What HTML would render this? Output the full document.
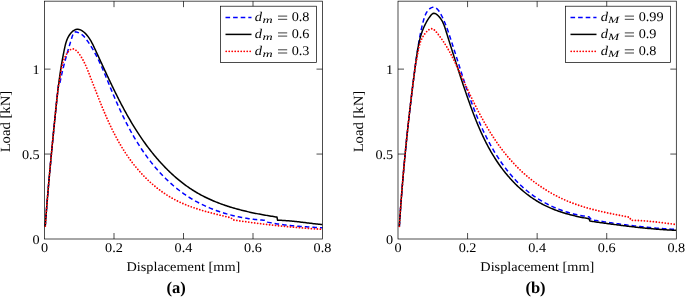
<!DOCTYPE html>
<html><head><meta charset="utf-8"><style>
html,body{margin:0;padding:0;background:#fff;width:685px;height:297px;overflow:hidden}
svg{display:block} text{text-rendering:geometricPrecision}
</style></head><body>
<svg style="will-change:transform" width="685" height="297" viewBox="0 0 685 297">
<rect width="685" height="297" fill="#fff"/>
<path d="M45.25,226.18 L45.34,224.98 L45.42,223.79 L45.51,222.59 L45.60,221.40 L45.69,220.20 L45.78,219.01 L45.87,217.81 L45.96,216.62 L46.05,215.42 L46.14,214.23 L46.23,213.03 L46.33,211.83 L46.42,210.64 L46.51,209.44 L46.61,208.24 L46.70,207.04 L46.80,205.85 L46.90,204.65 L46.99,203.45 L47.09,202.25 L47.19,201.05 L47.29,199.85 L47.39,198.66 L47.49,197.46 L47.59,196.26 L47.69,195.06 L47.79,193.86 L47.89,192.66 L47.99,191.46 L48.10,190.26 L48.20,189.06 L48.30,187.86 L48.41,186.66 L48.51,185.46 L48.62,184.26 L48.72,183.06 L48.83,181.86 L48.94,180.66 L49.04,179.46 L49.15,178.26 L49.26,177.06 L49.37,175.86 L49.47,174.66 L49.58,173.46 L49.69,172.26 L49.80,171.06 L49.91,169.86 L50.02,168.66 L50.13,167.46 L50.25,166.26 L50.36,165.06 L50.47,163.85 L50.58,162.65 L50.69,161.45 L50.81,160.25 L50.92,159.05 L51.03,157.85 L51.15,156.65 L51.26,155.45 L51.38,154.25 L51.49,153.05 L51.60,151.85 L51.72,150.65 L51.84,149.45 L51.95,148.25 L52.07,147.05 L52.18,145.85 L52.30,144.66 L52.42,143.46 L52.53,142.26 L52.65,141.06 L52.77,139.86 L52.88,138.66 L53.00,137.46 L53.12,136.26 L53.24,135.07 L53.36,133.87 L53.47,132.67 L53.59,131.47 L53.71,130.28 L53.83,129.08 L53.95,127.88 L54.07,126.69 L54.19,125.49 L54.31,124.29 L54.43,123.10 L54.55,121.90 L54.67,120.70 L54.79,119.51 L54.90,118.31 L55.02,117.12 L55.14,115.92 L55.26,114.73 L55.39,113.54 L55.51,112.34 L55.63,111.15 L55.75,109.96 L55.87,108.76 L55.99,107.57 L56.12,106.38 L56.24,105.18 L56.37,103.99 L56.49,102.80 L56.62,101.61 L56.75,100.42 L56.88,99.22 L57.01,98.03 L57.14,96.84 L57.28,95.65 L57.41,94.46 L57.55,93.27 L57.69,92.08 L57.83,90.89 L57.97,89.70 L58.11,88.50 L58.26,87.31 L58.41,86.12 L58.56,84.93 L59.75,83.82 L59.98,82.64 L60.21,81.47 L60.45,80.30 L60.69,79.13 L60.94,77.96 L61.19,76.79 L61.44,75.62 L61.70,74.45 L61.96,73.29 L62.23,72.12 L62.50,70.96 L62.77,69.79 L63.05,68.63 L63.34,67.47 L63.63,66.31 L63.92,65.15 L64.22,63.99 L64.52,62.83 L64.83,61.68 L65.14,60.52 L65.45,59.36 L65.77,58.20 L66.09,57.05 L66.42,55.89 L66.75,54.73 L67.08,53.57 L67.41,52.41 L67.75,51.24 L68.10,50.08 L68.44,48.91 L68.79,47.74 L69.14,46.57 L69.49,45.40 L69.85,44.22 L70.21,43.04 L70.57,41.86 L70.93,40.67 L71.30,39.48 L71.66,38.29 L72.03,37.09 L72.40,35.89 L72.80,34.73 L73.24,33.67 L73.76,32.79 L74.40,32.16 L75.19,31.86 L76.14,31.90 L77.20,32.21 L78.35,32.67 L79.52,33.21 L80.68,33.82 L81.77,34.50 L82.75,35.26 L83.63,36.09 L84.43,36.97 L85.18,37.89 L85.89,38.83 L86.59,39.77 L87.29,40.73 L87.96,41.69 L88.63,42.66 L89.29,43.64 L89.94,44.63 L90.58,45.62 L91.20,46.62 L91.82,47.63 L92.43,48.64 L93.03,49.66 L93.62,50.69 L94.20,51.72 L94.78,52.76 L95.34,53.80 L95.90,54.85 L96.45,55.90 L97.00,56.96 L97.53,58.03 L98.06,59.09 L98.59,60.17 L99.11,61.24 L99.62,62.33 L100.13,63.41 L100.63,64.50 L101.13,65.59 L101.62,66.69 L102.11,67.79 L102.60,68.89 L103.08,70.00 L103.55,71.10 L104.03,72.21 L104.50,73.32 L104.97,74.44 L105.44,75.55 L105.90,76.67 L106.37,77.79 L106.83,78.91 L107.29,80.03 L107.75,81.15 L108.21,82.27 L108.67,83.39 L109.13,84.51 L109.58,85.63 L110.04,86.76 L110.51,87.88 L110.97,89.00 L111.43,90.12 L111.89,91.24 L112.36,92.35 L112.83,93.47 L113.30,94.59 L113.77,95.70 L114.25,96.81 L114.72,97.93 L115.20,99.04 L115.68,100.15 L116.16,101.25 L116.65,102.36 L117.14,103.47 L117.63,104.57 L118.12,105.67 L118.62,106.77 L119.11,107.87 L119.62,108.97 L120.12,110.06 L120.63,111.16 L121.14,112.25 L121.65,113.34 L122.17,114.43 L122.69,115.51 L123.21,116.60 L123.74,117.68 L124.27,118.76 L124.80,119.84 L125.34,120.91 L125.88,121.98 L126.42,123.06 L126.97,124.13 L127.52,125.19 L128.08,126.26 L128.64,127.32 L129.20,128.38 L129.77,129.43 L130.35,130.49 L130.92,131.54 L131.51,132.59 L132.09,133.63 L132.68,134.68 L133.28,135.72 L133.88,136.76 L134.49,137.79 L135.10,138.82 L135.71,139.85 L136.33,140.88 L136.96,141.90 L137.59,142.92 L138.22,143.94 L138.86,144.96 L139.51,145.97 L140.16,146.97 L140.82,147.98 L141.48,148.98 L142.15,149.98 L142.83,150.97 L143.51,151.96 L144.19,152.95 L144.88,153.93 L145.58,154.91 L146.29,155.89 L147.00,156.86 L147.71,157.83 L148.43,158.79 L149.16,159.75 L149.89,160.71 L150.63,161.66 L151.38,162.60 L152.13,163.54 L152.89,164.48 L153.65,165.41 L154.42,166.34 L155.19,167.26 L155.98,168.17 L156.76,169.08 L157.56,169.99 L158.36,170.89 L159.16,171.78 L159.97,172.67 L160.79,173.55 L161.61,174.43 L162.44,175.30 L163.28,176.16 L164.12,177.02 L164.97,177.87 L165.83,178.71 L166.69,179.55 L167.55,180.38 L168.43,181.21 L169.30,182.02 L170.19,182.83 L171.08,183.63 L171.98,184.43 L172.88,185.22 L173.79,186.00 L174.71,186.77 L175.63,187.53 L176.56,188.29 L177.50,189.04 L178.44,189.78 L179.38,190.51 L180.34,191.24 L181.30,191.95 L182.27,192.66 L183.24,193.36 L184.22,194.05 L185.20,194.73 L186.20,195.40 L187.19,196.06 L188.20,196.72 L189.21,197.36 L190.23,198.00 L191.25,198.62 L192.28,199.24 L193.32,199.85 L194.36,200.45 L195.40,201.04 L196.46,201.62 L197.52,202.19 L198.58,202.75 L199.65,203.30 L200.72,203.85 L201.80,204.38 L202.89,204.91 L203.97,205.42 L205.07,205.93 L206.17,206.43 L207.27,206.92 L208.38,207.40 L209.49,207.87 L210.60,208.33 L211.72,208.78 L212.84,209.23 L213.97,209.67 L215.10,210.09 L216.24,210.51 L217.37,210.92 L218.51,211.32 L219.66,211.71 L220.80,212.09 L221.95,212.47 L223.11,212.83 L224.26,213.19 L225.42,213.54 L226.58,213.88 L227.74,214.21 L228.91,214.53 L230.08,214.84 L231.25,215.14 L232.42,215.44 L233.59,215.73 L234.77,216.01 L235.94,216.28 L237.12,216.54 L238.30,216.79 L239.48,217.03 L240.66,217.27 L241.84,217.50 L243.03,217.72 L244.21,217.93 L245.40,218.13 L246.58,218.32 L247.77,218.51 L248.95,218.68 L250.14,218.85 L251.33,219.01 L252.51,219.16 L253.70,219.31 L254.88,219.44 L256.07,219.57 L257.26,219.69 L258.44,219.80 L259.62,219.90 L260.81,219.99 L261.99,220.08 L263.17,220.16 L264.35,220.23 L265.53,220.29 L267.51,222.11 L268.72,222.36 L269.93,222.61 L271.14,222.84 L272.35,223.07 L273.56,223.28 L274.78,223.49 L275.99,223.69 L277.20,223.89 L278.42,224.07 L279.64,224.25 L280.85,224.42 L282.07,224.59 L283.29,224.75 L284.51,224.90 L285.73,225.05 L286.95,225.19 L288.17,225.32 L289.39,225.45 L290.61,225.58 L291.84,225.70 L293.06,225.81 L294.28,225.92 L295.51,226.03 L296.73,226.13 L297.96,226.23 L299.18,226.33 L300.41,226.42 L301.64,226.51 L302.86,226.60 L304.09,226.69 L305.32,226.77 L306.54,226.85 L307.77,226.93 L309.00,227.01 L310.22,227.09 L311.45,227.17 L312.68,227.24 L313.91,227.32 L315.14,227.39 L316.36,227.47 L317.59,227.55 L318.82,227.62 L320.05,227.70 L321.28,227.78 L322.50,227.86" fill="none" stroke="#00f" stroke-width="1.5" stroke-dasharray="4.6 3.0" stroke-linejoin="round"/>
<path d="M45.25,226.18 L45.34,224.98 L45.42,223.79 L45.51,222.59 L45.60,221.40 L45.69,220.20 L45.78,219.01 L45.87,217.81 L45.96,216.62 L46.05,215.42 L46.14,214.23 L46.23,213.03 L46.33,211.83 L46.42,210.64 L46.51,209.44 L46.61,208.24 L46.70,207.04 L46.80,205.85 L46.90,204.65 L46.99,203.45 L47.09,202.25 L47.19,201.05 L47.29,199.85 L47.39,198.66 L47.49,197.46 L47.59,196.26 L47.69,195.06 L47.79,193.86 L47.89,192.66 L47.99,191.46 L48.10,190.26 L48.20,189.06 L48.30,187.86 L48.41,186.66 L48.51,185.46 L48.62,184.26 L48.72,183.06 L48.83,181.86 L48.94,180.66 L49.04,179.46 L49.15,178.26 L49.26,177.06 L49.37,175.86 L49.47,174.66 L49.58,173.46 L49.69,172.26 L49.80,171.06 L49.91,169.86 L50.02,168.66 L50.13,167.46 L50.25,166.26 L50.36,165.06 L50.47,163.85 L50.58,162.65 L50.69,161.45 L50.81,160.25 L50.92,159.05 L51.03,157.85 L51.15,156.65 L51.26,155.45 L51.38,154.25 L51.49,153.05 L51.60,151.85 L51.72,150.65 L51.84,149.45 L51.95,148.25 L52.07,147.05 L52.18,145.85 L52.30,144.66 L52.42,143.46 L52.53,142.26 L52.65,141.06 L52.77,139.86 L52.88,138.66 L53.00,137.46 L53.12,136.26 L53.24,135.07 L53.36,133.87 L53.47,132.67 L53.59,131.47 L53.71,130.28 L53.83,129.08 L53.95,127.88 L54.07,126.69 L54.19,125.49 L54.31,124.29 L54.43,123.10 L54.55,121.90 L54.67,120.70 L54.79,119.51 L54.90,118.31 L55.02,117.12 L55.14,115.92 L55.26,114.73 L55.39,113.54 L55.51,112.34 L55.63,111.15 L55.75,109.96 L55.87,108.76 L55.99,107.57 L56.12,106.38 L56.24,105.18 L56.37,103.99 L56.49,102.80 L56.62,101.61 L56.75,100.42 L56.88,99.22 L57.01,98.03 L57.14,96.84 L57.28,95.65 L57.41,94.46 L57.55,93.27 L57.69,92.08 L57.83,90.89 L57.97,89.70 L58.11,88.50 L58.26,87.31 L58.41,86.12 L58.56,84.93 L58.71,83.74 L58.86,82.55 L59.02,81.36 L59.18,80.17 L59.34,78.98 L59.50,77.80 L59.67,76.61 L59.84,75.42 L60.01,74.23 L60.18,73.04 L60.36,71.85 L60.54,70.66 L60.73,69.47 L60.91,68.28 L61.10,67.09 L61.30,65.90 L61.49,64.71 L61.69,63.52 L61.90,62.33 L62.10,61.14 L62.31,59.95 L62.53,58.76 L62.75,57.57 L62.97,56.38 L63.20,55.19 L63.43,54.00 L63.66,52.81 L63.90,51.62 L64.14,50.43 L64.39,49.24 L64.64,48.05 L64.90,46.86 L65.17,45.68 L65.46,44.50 L65.78,43.32 L66.12,42.16 L66.50,41.01 L66.92,39.87 L67.38,38.75 L67.90,37.64 L68.47,36.56 L69.11,35.50 L69.81,34.46 L70.57,33.47 L71.38,32.54 L72.24,31.69 L73.13,30.94 L74.06,30.30 L75.01,29.80 L75.99,29.45 L76.97,29.26 L77.96,29.25 L78.95,29.39 L79.94,29.68 L80.91,30.09 L81.88,30.62 L82.83,31.26 L83.75,31.98 L84.65,32.77 L85.52,33.62 L86.36,34.51 L87.15,35.44 L87.91,36.39 L88.62,37.37 L89.31,38.36 L89.96,39.38 L90.59,40.41 L91.19,41.46 L91.77,42.53 L92.34,43.60 L92.88,44.68 L93.42,45.78 L93.94,46.87 L94.46,47.97 L94.97,49.08 L95.48,50.18 L95.99,51.28 L96.51,52.39 L97.02,53.49 L97.52,54.59 L98.03,55.69 L98.54,56.80 L99.05,57.90 L99.56,59.00 L100.06,60.10 L100.57,61.20 L101.08,62.30 L101.59,63.40 L102.09,64.50 L102.60,65.60 L103.11,66.70 L103.61,67.80 L104.12,68.89 L104.63,69.99 L105.14,71.09 L105.65,72.18 L106.15,73.28 L106.66,74.37 L107.17,75.46 L107.69,76.55 L108.20,77.64 L108.71,78.73 L109.22,79.82 L109.74,80.91 L110.26,82.00 L110.77,83.09 L111.29,84.17 L111.81,85.25 L112.33,86.34 L112.85,87.42 L113.38,88.50 L113.90,89.58 L114.43,90.66 L114.96,91.73 L115.49,92.81 L116.02,93.88 L116.56,94.96 L117.09,96.03 L117.63,97.10 L118.17,98.17 L118.71,99.24 L119.26,100.30 L119.80,101.37 L120.35,102.43 L120.90,103.49 L121.46,104.55 L122.02,105.61 L122.57,106.66 L123.14,107.72 L123.70,108.77 L124.27,109.82 L124.84,110.87 L125.41,111.91 L125.99,112.96 L126.57,114.00 L127.15,115.04 L127.74,116.08 L128.33,117.12 L128.92,118.16 L129.52,119.19 L130.12,120.22 L130.72,121.25 L131.33,122.27 L131.94,123.30 L132.55,124.32 L133.17,125.34 L133.79,126.36 L134.42,127.37 L135.05,128.39 L135.68,129.40 L136.32,130.40 L136.97,131.41 L137.61,132.41 L138.27,133.41 L138.92,134.41 L139.58,135.41 L140.25,136.40 L140.92,137.39 L141.59,138.38 L142.27,139.36 L142.96,140.35 L143.65,141.32 L144.34,142.30 L145.04,143.28 L145.74,144.25 L146.45,145.21 L147.17,146.18 L147.89,147.14 L148.61,148.10 L149.35,149.06 L150.08,150.01 L150.82,150.96 L151.57,151.91 L152.33,152.85 L153.08,153.79 L153.85,154.72 L154.62,155.66 L155.39,156.58 L156.17,157.51 L156.96,158.43 L157.75,159.34 L158.55,160.25 L159.35,161.16 L160.16,162.06 L160.97,162.95 L161.79,163.84 L162.62,164.73 L163.45,165.61 L164.28,166.49 L165.12,167.36 L165.97,168.22 L166.82,169.08 L167.68,169.93 L168.54,170.78 L169.41,171.62 L170.29,172.45 L171.17,173.28 L172.05,174.10 L172.94,174.91 L173.84,175.72 L174.74,176.52 L175.65,177.32 L176.56,178.10 L177.48,178.88 L178.40,179.65 L179.33,180.42 L180.27,181.17 L181.21,181.92 L182.15,182.66 L183.11,183.40 L184.06,184.12 L185.02,184.84 L185.99,185.54 L186.97,186.24 L187.95,186.93 L188.93,187.61 L189.92,188.29 L190.92,188.95 L191.92,189.61 L192.92,190.25 L193.93,190.89 L194.95,191.51 L195.98,192.13 L197.00,192.73 L198.04,193.33 L199.08,193.92 L200.12,194.50 L201.17,195.07 L202.23,195.63 L203.28,196.18 L204.35,196.72 L205.42,197.25 L206.49,197.78 L207.57,198.29 L208.65,198.80 L209.74,199.30 L210.83,199.79 L211.92,200.27 L213.02,200.74 L214.13,201.21 L215.23,201.66 L216.34,202.11 L217.46,202.55 L218.58,202.99 L219.70,203.41 L220.82,203.83 L221.95,204.24 L223.08,204.65 L224.22,205.04 L225.36,205.43 L226.50,205.82 L227.64,206.19 L228.79,206.56 L229.93,206.92 L231.09,207.28 L232.24,207.63 L233.40,207.97 L234.55,208.31 L235.71,208.64 L236.88,208.96 L238.04,209.28 L239.21,209.59 L240.38,209.90 L241.55,210.20 L242.72,210.49 L243.89,210.78 L245.07,211.07 L246.24,211.35 L247.42,211.62 L248.60,211.89 L249.78,212.15 L250.96,212.41 L252.14,212.67 L253.32,212.92 L254.51,213.16 L255.69,213.40 L256.87,213.64 L258.06,213.87 L259.24,214.09 L260.43,214.32 L261.61,214.54 L262.80,214.75 L263.98,214.96 L265.17,215.17 L266.35,215.37 L267.54,215.57 L268.72,215.77 L269.90,215.97 L271.09,216.16 L272.27,216.34 L273.45,216.53 L274.63,216.71 L275.81,216.89 L276.99,217.06 L277.60,220.27 L278.85,220.29 L280.10,220.33 L281.35,220.37 L282.59,220.43 L283.84,220.49 L285.08,220.57 L286.33,220.65 L287.57,220.74 L288.81,220.84 L290.05,220.95 L291.30,221.06 L292.54,221.18 L293.78,221.31 L295.02,221.44 L296.26,221.58 L297.50,221.72 L298.74,221.86 L299.98,222.01 L301.22,222.15 L302.45,222.30 L303.69,222.46 L304.93,222.61 L306.17,222.76 L307.41,222.91 L308.65,223.06 L309.89,223.21 L311.13,223.36 L312.37,223.50 L313.61,223.64 L314.85,223.78 L316.09,223.91 L317.33,224.04 L318.57,224.16 L319.81,224.28 L321.06,224.38 L322.30,224.49" fill="none" stroke="#000" stroke-width="1.5"  stroke-linejoin="round"/>
<path d="M45.25,226.18 L45.34,224.98 L45.42,223.79 L45.51,222.59 L45.60,221.40 L45.69,220.20 L45.78,219.01 L45.87,217.81 L45.96,216.62 L46.05,215.42 L46.14,214.23 L46.23,213.03 L46.33,211.83 L46.42,210.64 L46.51,209.44 L46.61,208.24 L46.70,207.04 L46.80,205.85 L46.90,204.65 L46.99,203.45 L47.09,202.25 L47.19,201.05 L47.29,199.85 L47.39,198.66 L47.49,197.46 L47.59,196.26 L47.69,195.06 L47.79,193.86 L47.89,192.66 L47.99,191.46 L48.10,190.26 L48.20,189.06 L48.30,187.86 L48.41,186.66 L48.51,185.46 L48.62,184.26 L48.72,183.06 L48.83,181.86 L48.94,180.66 L49.04,179.46 L49.15,178.26 L49.26,177.06 L49.37,175.86 L49.47,174.66 L49.58,173.46 L49.69,172.26 L49.80,171.06 L49.91,169.86 L50.02,168.66 L50.13,167.46 L50.25,166.26 L50.36,165.06 L50.47,163.85 L50.58,162.65 L50.69,161.45 L50.81,160.25 L50.92,159.05 L51.03,157.85 L51.15,156.65 L51.26,155.45 L51.38,154.25 L51.49,153.05 L51.60,151.85 L51.72,150.65 L51.84,149.45 L51.95,148.25 L52.07,147.05 L52.18,145.85 L52.30,144.66 L52.42,143.46 L52.53,142.26 L52.65,141.06 L52.77,139.86 L52.88,138.66 L53.00,137.46 L53.12,136.26 L53.24,135.07 L53.36,133.87 L53.47,132.67 L53.59,131.47 L53.71,130.28 L53.83,129.08 L53.95,127.88 L54.07,126.69 L54.19,125.49 L54.31,124.29 L54.43,123.10 L54.55,121.90 L54.67,120.70 L54.79,119.51 L54.90,118.31 L55.02,117.12 L55.14,115.92 L55.26,114.73 L55.39,113.54 L55.51,112.34 L55.63,111.15 L55.75,109.96 L55.87,108.76 L55.99,107.57 L56.12,106.38 L56.24,105.18 L56.37,103.99 L56.49,102.80 L56.62,101.61 L56.75,100.42 L56.88,99.22 L57.01,98.03 L57.14,96.84 L57.28,95.65 L57.41,94.46 L57.55,93.27 L57.69,92.08 L57.83,90.89 L57.97,89.70 L58.11,88.50 L58.26,87.31 L58.41,86.12 L58.56,84.93 L59.17,83.59 L59.33,82.39 L59.50,81.18 L59.67,79.98 L59.84,78.77 L60.01,77.56 L60.18,76.36 L60.36,75.15 L60.54,73.94 L60.72,72.73 L60.91,71.53 L61.12,70.33 L61.33,69.13 L61.56,67.93 L61.81,66.74 L62.08,65.56 L62.38,64.38 L62.70,63.21 L63.05,62.05 L63.43,60.90 L63.84,59.75 L64.28,58.62 L64.77,57.50 L65.30,56.39 L65.87,55.29 L66.48,54.22 L67.13,53.19 L67.82,52.23 L68.54,51.35 L69.28,50.57 L70.05,49.91 L70.85,49.40 L71.65,49.06 L72.48,48.90 L73.31,48.94 L74.15,49.18 L74.99,49.61 L75.82,50.19 L76.65,50.92 L77.47,51.76 L78.28,52.69 L79.06,53.70 L79.82,54.76 L80.55,55.85 L81.25,56.95 L81.91,58.05 L82.55,59.15 L83.16,60.25 L83.74,61.35 L84.29,62.46 L84.83,63.56 L85.35,64.67 L85.84,65.78 L86.33,66.89 L86.80,68.00 L87.26,69.11 L87.71,70.22 L88.15,71.33 L88.59,72.44 L89.03,73.56 L89.46,74.67 L89.90,75.79 L90.33,76.91 L90.77,78.03 L91.20,79.14 L91.64,80.26 L92.07,81.38 L92.50,82.51 L92.93,83.63 L93.37,84.75 L93.80,85.87 L94.23,86.99 L94.67,88.11 L95.10,89.24 L95.54,90.36 L95.97,91.48 L96.41,92.60 L96.85,93.73 L97.29,94.85 L97.73,95.97 L98.17,97.09 L98.61,98.21 L99.05,99.33 L99.50,100.45 L99.95,101.57 L100.40,102.69 L100.85,103.81 L101.30,104.93 L101.76,106.04 L102.21,107.16 L102.67,108.27 L103.14,109.38 L103.60,110.49 L104.07,111.60 L104.54,112.71 L105.01,113.82 L105.49,114.93 L105.97,116.03 L106.45,117.13 L106.94,118.23 L107.43,119.33 L107.92,120.43 L108.42,121.52 L108.92,122.62 L109.42,123.71 L109.93,124.80 L110.45,125.88 L110.96,126.97 L111.49,128.05 L112.01,129.13 L112.54,130.21 L113.08,131.28 L113.62,132.36 L114.16,133.42 L114.71,134.49 L115.27,135.56 L115.83,136.62 L116.39,137.67 L116.96,138.73 L117.54,139.78 L118.12,140.83 L118.71,141.87 L119.31,142.92 L119.91,143.96 L120.51,144.99 L121.12,146.02 L121.74,147.05 L122.37,148.07 L123.00,149.09 L123.64,150.11 L124.28,151.12 L124.94,152.13 L125.59,153.14 L126.26,154.14 L126.93,155.14 L127.61,156.13 L128.30,157.12 L129.00,158.10 L129.70,159.08 L130.41,160.05 L131.13,161.02 L131.86,161.99 L132.59,162.95 L133.33,163.90 L134.08,164.85 L134.83,165.79 L135.59,166.73 L136.36,167.66 L137.14,168.59 L137.93,169.51 L138.72,170.42 L139.52,171.33 L140.32,172.23 L141.13,173.13 L141.96,174.02 L142.78,174.90 L143.62,175.77 L144.46,176.64 L145.31,177.50 L146.16,178.35 L147.03,179.19 L147.90,180.03 L148.77,180.86 L149.66,181.68 L150.55,182.49 L151.44,183.29 L152.35,184.09 L153.26,184.88 L154.18,185.66 L155.10,186.42 L156.03,187.19 L156.97,187.94 L157.92,188.68 L158.87,189.41 L159.83,190.13 L160.80,190.85 L161.77,191.55 L162.75,192.25 L163.73,192.93 L164.72,193.60 L165.72,194.27 L166.73,194.92 L167.74,195.56 L168.76,196.19 L169.78,196.81 L170.81,197.42 L171.85,198.02 L172.90,198.60 L173.95,199.18 L175.00,199.74 L176.07,200.29 L177.14,200.83 L178.21,201.36 L179.29,201.88 L180.38,202.39 L181.47,202.88 L182.57,203.37 L183.67,203.85 L184.78,204.31 L185.89,204.77 L187.01,205.22 L188.13,205.66 L189.25,206.09 L190.38,206.51 L191.51,206.92 L192.65,207.33 L193.79,207.73 L194.93,208.11 L196.08,208.50 L197.23,208.87 L198.38,209.24 L199.53,209.60 L200.69,209.96 L201.85,210.31 L203.01,210.65 L204.17,210.99 L205.33,211.32 L206.50,211.65 L207.66,211.97 L208.83,212.29 L210.00,212.61 L211.17,212.92 L212.34,213.22 L213.50,213.53 L214.67,213.82 L215.84,214.12 L217.01,214.41 L218.18,214.70 L219.35,214.99 L220.52,215.28 L221.68,215.56 L222.85,215.84 L224.01,216.12 L225.17,216.40 L226.34,216.68 L227.49,216.96 L228.65,217.23 L229.80,217.51 L230.96,217.79 L233.20,219.91 L234.41,220.09 L235.63,220.27 L236.84,220.45 L238.06,220.62 L239.27,220.80 L240.49,220.97 L241.70,221.15 L242.92,221.32 L244.14,221.49 L245.35,221.66 L246.57,221.83 L247.79,221.99 L249.00,222.16 L250.22,222.32 L251.44,222.49 L252.65,222.65 L253.87,222.81 L255.09,222.97 L256.31,223.12 L257.52,223.28 L258.74,223.43 L259.96,223.59 L261.18,223.74 L262.40,223.89 L263.62,224.04 L264.83,224.18 L266.05,224.33 L267.27,224.47 L268.49,224.62 L269.71,224.76 L270.93,224.90 L272.15,225.03 L273.37,225.17 L274.59,225.31 L275.81,225.44 L277.03,225.57 L278.25,225.70 L279.47,225.83 L280.69,225.96 L281.91,226.09 L283.14,226.21 L284.36,226.33 L285.58,226.45 L286.80,226.57 L288.02,226.69 L289.24,226.81 L290.47,226.92 L291.69,227.04 L292.91,227.15 L294.14,227.26 L295.36,227.37 L296.58,227.47 L297.80,227.58 L299.03,227.68 L300.25,227.78 L301.48,227.88 L302.70,227.98 L303.92,228.08 L305.15,228.17 L306.37,228.26 L307.60,228.36 L308.82,228.45 L310.05,228.53 L311.27,228.62 L312.50,228.70 L313.72,228.79 L314.95,228.87 L316.18,228.95 L317.40,229.02 L318.63,229.10 L319.85,229.17 L321.08,229.24 L322.31,229.31" fill="none" stroke="#f00" stroke-width="1.8" stroke-dasharray="0 3.0" stroke-linecap="round" stroke-linejoin="round"/>
<path d="M399.34,226.33 L399.42,225.11 L399.50,223.90 L399.58,222.68 L399.66,221.47 L399.74,220.25 L399.82,219.04 L399.90,217.83 L399.99,216.62 L400.07,215.41 L400.15,214.20 L400.24,212.98 L400.32,211.78 L400.41,210.57 L400.50,209.36 L400.58,208.15 L400.67,206.94 L400.76,205.73 L400.85,204.53 L400.94,203.32 L401.03,202.12 L401.12,200.91 L401.21,199.71 L401.30,198.50 L401.40,197.30 L401.49,196.09 L401.58,194.89 L401.68,193.69 L401.77,192.49 L401.87,191.28 L401.97,190.08 L402.06,188.88 L402.16,187.68 L402.26,186.48 L402.36,185.28 L402.46,184.08 L402.56,182.88 L402.66,181.68 L402.76,180.48 L402.86,179.28 L402.96,178.09 L403.06,176.89 L403.17,175.69 L403.27,174.49 L403.38,173.30 L403.48,172.10 L403.59,170.90 L403.70,169.71 L403.80,168.51 L403.91,167.31 L404.02,166.12 L404.13,164.92 L404.24,163.73 L404.35,162.53 L404.46,161.34 L404.57,160.14 L404.68,158.95 L404.80,157.75 L404.91,156.56 L405.02,155.36 L405.14,154.17 L405.25,152.98 L405.37,151.78 L405.49,150.59 L405.60,149.40 L405.72,148.20 L405.84,147.01 L405.96,145.82 L406.08,144.62 L406.20,143.43 L406.32,142.24 L406.44,141.04 L406.56,139.85 L406.69,138.66 L406.81,137.46 L406.93,136.27 L407.06,135.08 L407.18,133.89 L407.31,132.69 L407.43,131.50 L407.56,130.31 L407.69,129.11 L407.82,127.92 L407.95,126.73 L408.08,125.53 L408.21,124.34 L408.34,123.15 L408.47,121.95 L408.60,120.76 L408.73,119.57 L408.87,118.37 L409.00,117.18 L409.14,115.99 L409.27,114.79 L409.41,113.60 L409.54,112.40 L409.68,111.21 L409.82,110.01 L409.96,108.82 L410.09,107.62 L410.23,106.43 L410.37,105.23 L410.52,104.04 L410.66,102.84 L410.80,101.65 L410.94,100.45 L411.09,99.25 L411.23,98.06 L411.37,96.86 L411.52,95.66 L411.67,94.47 L411.81,93.27 L411.96,92.07 L412.11,90.87 L412.26,89.67 L412.40,88.47 L412.55,87.27 L412.70,86.07 L412.86,84.87 L413.01,83.67 L413.16,82.47 L413.31,81.27 L413.47,80.07 L413.62,78.87 L413.78,77.67 L413.93,76.47 L414.09,75.26 L414.24,74.06 L414.40,72.86 L414.56,71.65 L414.72,70.45 L414.88,69.24 L415.04,68.04 L415.20,66.83 L415.36,65.62 L415.52,64.42 L415.68,63.21 L415.85,62.00 L416.01,60.80 L416.19,59.54 L416.37,58.36 L416.54,57.18 L416.71,56.00 L416.89,54.82 L417.07,53.64 L417.24,52.46 L417.42,51.28 L417.60,50.11 L417.78,48.93 L417.96,47.76 L418.14,46.58 L418.33,45.41 L418.52,44.23 L418.71,43.06 L418.90,41.88 L419.10,40.71 L419.30,39.53 L419.51,38.35 L419.73,37.17 L419.95,35.99 L420.17,34.80 L420.40,33.61 L420.64,32.42 L420.89,31.22 L421.15,30.03 L421.41,28.82 L421.69,27.62 L421.97,26.40 L422.27,25.19 L422.57,23.97 L422.89,22.74 L423.21,21.51 L423.55,20.27 L423.91,19.04 L424.29,17.81 L424.70,16.60 L425.15,15.42 L425.64,14.27 L426.18,13.17 L426.78,12.12 L427.43,11.12 L428.16,10.20 L428.94,9.37 L429.78,8.64 L430.66,8.05 L431.56,7.61 L432.49,7.35 L433.42,7.28 L434.35,7.40 L435.26,7.71 L436.14,8.18 L436.99,8.82 L437.78,9.61 L438.53,10.52 L439.24,11.53 L439.92,12.61 L440.56,13.73 L441.18,14.87 L441.77,16.01 L442.34,17.15 L442.88,18.29 L443.41,19.42 L443.92,20.55 L444.41,21.69 L444.89,22.82 L445.35,23.95 L445.80,25.08 L446.23,26.21 L446.66,27.34 L447.07,28.47 L447.48,29.60 L447.88,30.73 L448.27,31.86 L448.66,32.99 L449.04,34.13 L449.42,35.26 L449.80,36.39 L450.18,37.53 L450.55,38.67 L450.93,39.80 L451.30,40.94 L451.67,42.08 L452.04,43.22 L452.41,44.36 L452.78,45.51 L453.15,46.65 L453.52,47.79 L453.88,48.94 L454.25,50.08 L454.61,51.23 L454.98,52.37 L455.34,53.52 L455.71,54.67 L456.07,55.81 L456.43,56.96 L456.79,58.11 L457.16,59.26 L457.52,60.41 L457.88,61.56 L458.25,62.70 L458.61,63.85 L458.97,65.00 L459.33,66.15 L459.70,67.30 L460.06,68.45 L460.43,69.60 L460.79,70.75 L461.16,71.90 L461.53,73.05 L461.90,74.20 L462.27,75.35 L462.64,76.50 L463.01,77.65 L463.38,78.79 L463.75,79.94 L464.13,81.09 L464.51,82.24 L464.88,83.38 L465.26,84.53 L465.64,85.67 L466.03,86.82 L466.41,87.96 L466.80,89.10 L467.19,90.25 L467.58,91.39 L467.97,92.53 L468.37,93.67 L468.76,94.81 L469.16,95.95 L469.57,97.08 L469.97,98.22 L470.38,99.35 L470.79,100.49 L471.20,101.62 L471.61,102.75 L472.03,103.88 L472.45,105.01 L472.88,106.14 L473.30,107.27 L473.74,108.39 L474.17,109.51 L474.61,110.64 L475.05,111.76 L475.49,112.88 L475.94,113.99 L476.39,115.11 L476.84,116.22 L477.30,117.34 L477.76,118.45 L478.23,119.56 L478.70,120.66 L479.18,121.77 L479.65,122.87 L480.14,123.98 L480.62,125.07 L481.12,126.17 L481.61,127.27 L482.11,128.36 L482.62,129.45 L483.13,130.54 L483.64,131.63 L484.16,132.71 L484.69,133.80 L485.22,134.88 L485.75,135.95 L486.29,137.03 L486.84,138.10 L487.39,139.17 L487.94,140.24 L488.50,141.31 L489.07,142.37 L489.64,143.43 L490.22,144.49 L490.80,145.54 L491.39,146.59 L491.99,147.64 L492.59,148.69 L493.20,149.73 L493.81,150.77 L494.43,151.81 L495.06,152.84 L495.69,153.88 L496.33,154.90 L496.98,155.92 L497.63,156.94 L498.28,157.96 L498.95,158.97 L499.62,159.97 L500.30,160.97 L500.98,161.97 L501.67,162.96 L502.37,163.95 L503.07,164.93 L503.78,165.91 L504.50,166.88 L505.22,167.84 L505.95,168.80 L506.69,169.76 L507.44,170.70 L508.19,171.65 L508.95,172.58 L509.71,173.51 L510.48,174.43 L511.27,175.35 L512.05,176.26 L512.85,177.16 L513.65,178.05 L514.46,178.94 L515.27,179.82 L516.10,180.69 L516.93,181.55 L517.77,182.41 L518.62,183.26 L519.47,184.10 L520.33,184.93 L521.20,185.75 L522.08,186.56 L522.96,187.37 L523.86,188.16 L524.76,188.95 L525.66,189.73 L526.58,190.50 L527.51,191.26 L528.44,192.00 L529.38,192.74 L530.33,193.47 L531.28,194.19 L532.25,194.90 L533.22,195.60 L534.20,196.29 L535.19,196.96 L536.19,197.63 L537.20,198.29 L538.21,198.93 L539.23,199.57 L540.26,200.19 L541.29,200.80 L542.33,201.41 L543.38,202.00 L544.43,202.58 L545.50,203.15 L546.56,203.71 L547.64,204.26 L548.72,204.80 L549.80,205.33 L550.89,205.84 L551.99,206.35 L553.09,206.85 L554.20,207.33 L555.31,207.81 L556.42,208.27 L557.55,208.72 L558.67,209.16 L559.80,209.59 L560.93,210.01 L562.07,210.42 L563.21,210.82 L564.36,211.21 L565.50,211.58 L566.66,211.95 L567.81,212.30 L568.97,212.65 L570.13,212.98 L571.29,213.30 L572.46,213.61 L573.62,213.91 L574.79,214.20 L575.96,214.48 L577.14,214.74 L578.31,215.00 L579.49,215.24 L580.66,215.48 L581.84,215.70 L583.02,215.91 L584.20,216.11 L585.38,216.30 L586.56,216.48 L587.74,216.65 L588.92,216.80 L591.51,219.80 L592.73,220.00 L593.95,220.19 L595.17,220.38 L596.39,220.58 L597.60,220.77 L598.82,220.96 L600.04,221.15 L601.26,221.33 L602.48,221.52 L603.70,221.71 L604.92,221.89 L606.14,222.07 L607.36,222.26 L608.58,222.44 L609.80,222.62 L611.02,222.79 L612.24,222.97 L613.46,223.15 L614.68,223.32 L615.90,223.49 L617.12,223.66 L618.34,223.83 L619.56,224.00 L620.79,224.16 L622.01,224.33 L623.23,224.49 L624.45,224.65 L625.67,224.81 L626.90,224.97 L628.12,225.12 L629.34,225.28 L630.57,225.43 L631.79,225.58 L633.01,225.72 L634.24,225.87 L635.46,226.01 L636.69,226.16 L637.91,226.30 L639.14,226.43 L640.36,226.57 L641.59,226.70 L642.81,226.83 L644.04,226.96 L645.27,227.09 L646.49,227.21 L647.72,227.34 L648.95,227.46 L650.17,227.57 L651.40,227.69 L652.63,227.80 L653.86,227.91 L655.08,228.02 L656.31,228.13 L657.54,228.23 L658.77,228.33 L660.00,228.43 L661.23,228.52 L662.46,228.61 L663.69,228.70 L664.92,228.79 L666.15,228.87 L667.38,228.95 L668.61,229.03 L669.84,229.11 L671.08,229.18 L672.31,229.25 L673.54,229.32 L674.77,229.38 L676.01,229.44" fill="none" stroke="#00f" stroke-width="1.5" stroke-dasharray="4.6 3.0" stroke-linejoin="round"/>
<path d="M399.34,226.33 L399.42,225.11 L399.50,223.90 L399.58,222.68 L399.66,221.47 L399.74,220.25 L399.82,219.04 L399.90,217.83 L399.99,216.62 L400.07,215.41 L400.15,214.20 L400.24,212.98 L400.32,211.78 L400.41,210.57 L400.50,209.36 L400.58,208.15 L400.67,206.94 L400.76,205.73 L400.85,204.53 L400.94,203.32 L401.03,202.12 L401.12,200.91 L401.21,199.71 L401.30,198.50 L401.40,197.30 L401.49,196.09 L401.58,194.89 L401.68,193.69 L401.77,192.49 L401.87,191.28 L401.97,190.08 L402.06,188.88 L402.16,187.68 L402.26,186.48 L402.36,185.28 L402.46,184.08 L402.56,182.88 L402.66,181.68 L402.76,180.48 L402.86,179.28 L402.96,178.09 L403.06,176.89 L403.17,175.69 L403.27,174.49 L403.38,173.30 L403.48,172.10 L403.59,170.90 L403.70,169.71 L403.80,168.51 L403.91,167.31 L404.02,166.12 L404.13,164.92 L404.24,163.73 L404.35,162.53 L404.46,161.34 L404.57,160.14 L404.68,158.95 L404.80,157.75 L404.91,156.56 L405.02,155.36 L405.14,154.17 L405.25,152.98 L405.37,151.78 L405.49,150.59 L405.60,149.40 L405.72,148.20 L405.84,147.01 L405.96,145.82 L406.08,144.62 L406.20,143.43 L406.32,142.24 L406.44,141.04 L406.56,139.85 L406.69,138.66 L406.81,137.46 L406.93,136.27 L407.06,135.08 L407.18,133.89 L407.31,132.69 L407.43,131.50 L407.56,130.31 L407.69,129.11 L407.82,127.92 L407.95,126.73 L408.08,125.53 L408.21,124.34 L408.34,123.15 L408.47,121.95 L408.60,120.76 L408.73,119.57 L408.87,118.37 L409.00,117.18 L409.14,115.99 L409.27,114.79 L409.41,113.60 L409.54,112.40 L409.68,111.21 L409.82,110.01 L409.96,108.82 L410.09,107.62 L410.23,106.43 L410.37,105.23 L410.52,104.04 L410.66,102.84 L410.80,101.65 L410.94,100.45 L411.09,99.25 L411.23,98.06 L411.37,96.86 L411.52,95.66 L411.67,94.47 L411.81,93.27 L411.96,92.07 L412.11,90.87 L412.26,89.67 L412.40,88.47 L412.55,87.27 L412.70,86.07 L412.86,84.87 L413.01,83.67 L413.16,82.47 L413.31,81.27 L413.47,80.07 L413.62,78.87 L413.78,77.67 L413.93,76.47 L414.09,75.26 L414.24,74.06 L414.40,72.86 L414.56,71.65 L414.72,70.45 L414.88,69.24 L415.04,68.04 L415.20,66.83 L415.36,65.62 L415.52,64.42 L415.68,63.21 L415.85,62.00 L416.01,60.80 L416.18,59.59 L416.34,58.38 L416.51,57.17 L416.69,55.96 L416.87,54.76 L417.05,53.56 L417.24,52.35 L417.43,51.15 L417.63,49.96 L417.84,48.76 L418.05,47.57 L418.28,46.38 L418.51,45.19 L418.75,44.01 L419.00,42.84 L419.27,41.66 L419.54,40.50 L419.83,39.34 L420.13,38.18 L420.45,37.03 L420.77,35.88 L421.12,34.75 L421.48,33.61 L421.85,32.49 L422.24,31.37 L422.65,30.27 L423.08,29.16 L423.53,28.07 L423.99,26.99 L424.48,25.91 L424.99,24.85 L425.51,23.79 L426.06,22.75 L426.64,21.71 L427.23,20.68 L427.85,19.67 L428.49,18.67 L429.16,17.68 L429.86,16.70 L430.58,15.73 L431.33,14.81 L432.13,14.03 L432.98,13.49 L433.89,13.26 L434.87,13.41 L435.89,13.87 L436.92,14.57 L437.93,15.45 L438.89,16.43 L439.76,17.46 L440.56,18.50 L441.28,19.56 L441.93,20.64 L442.52,21.73 L443.06,22.84 L443.55,23.95 L444.00,25.08 L444.42,26.21 L444.81,27.35 L445.18,28.50 L445.55,29.64 L445.91,30.79 L446.27,31.94 L446.63,33.09 L446.99,34.23 L447.35,35.38 L447.71,36.53 L448.07,37.68 L448.43,38.83 L448.79,39.97 L449.15,41.12 L449.51,42.27 L449.87,43.42 L450.23,44.56 L450.59,45.71 L450.95,46.86 L451.31,48.00 L451.67,49.15 L452.03,50.30 L452.39,51.45 L452.76,52.59 L453.12,53.74 L453.48,54.89 L453.84,56.03 L454.21,57.18 L454.57,58.33 L454.93,59.47 L455.30,60.62 L455.67,61.76 L456.03,62.91 L456.40,64.06 L456.76,65.20 L457.13,66.35 L457.50,67.49 L457.87,68.64 L458.24,69.78 L458.61,70.93 L458.98,72.07 L459.36,73.21 L459.73,74.36 L460.10,75.50 L460.48,76.65 L460.86,77.79 L461.23,78.93 L461.61,80.07 L461.99,81.22 L462.37,82.36 L462.75,83.50 L463.13,84.64 L463.52,85.78 L463.90,86.93 L464.29,88.07 L464.68,89.21 L465.07,90.35 L465.46,91.49 L465.85,92.63 L466.24,93.77 L466.63,94.90 L467.03,96.04 L467.43,97.18 L467.82,98.32 L468.22,99.46 L468.62,100.59 L469.03,101.73 L469.43,102.87 L469.84,104.00 L470.25,105.14 L470.66,106.27 L471.07,107.40 L471.49,108.53 L471.91,109.67 L472.33,110.80 L472.75,111.93 L473.18,113.05 L473.60,114.18 L474.04,115.31 L474.47,116.43 L474.91,117.55 L475.35,118.67 L475.80,119.79 L476.24,120.91 L476.70,122.03 L477.15,123.14 L477.61,124.26 L478.08,125.37 L478.55,126.48 L479.02,127.58 L479.50,128.69 L479.98,129.79 L480.46,130.89 L480.95,131.99 L481.45,133.08 L481.95,134.18 L482.45,135.27 L482.96,136.36 L483.48,137.44 L484.00,138.52 L484.53,139.60 L485.06,140.68 L485.60,141.75 L486.14,142.82 L486.69,143.89 L487.25,144.96 L487.81,146.02 L488.38,147.08 L488.95,148.13 L489.53,149.18 L490.12,150.23 L490.72,151.28 L491.32,152.32 L491.93,153.35 L492.54,154.39 L493.16,155.42 L493.79,156.44 L494.43,157.46 L495.08,158.48 L495.73,159.49 L496.39,160.50 L497.05,161.51 L497.73,162.51 L498.41,163.50 L499.10,164.49 L499.80,165.48 L500.51,166.46 L501.22,167.44 L501.94,168.40 L502.67,169.37 L503.40,170.33 L504.14,171.28 L504.90,172.23 L505.65,173.17 L506.42,174.10 L507.19,175.03 L507.97,175.95 L508.76,176.86 L509.56,177.77 L510.36,178.67 L511.17,179.56 L511.99,180.45 L512.81,181.32 L513.64,182.19 L514.48,183.05 L515.33,183.91 L516.19,184.76 L517.05,185.59 L517.92,186.42 L518.80,187.24 L519.68,188.06 L520.57,188.86 L521.47,189.65 L522.38,190.44 L523.29,191.21 L524.21,191.98 L525.14,192.74 L526.08,193.48 L527.02,194.22 L527.97,194.95 L528.93,195.66 L529.90,196.37 L530.87,197.07 L531.85,197.75 L532.84,198.43 L533.83,199.09 L534.83,199.74 L535.84,200.38 L536.86,201.01 L537.88,201.63 L538.92,202.24 L539.95,202.83 L541.00,203.42 L542.05,203.99 L543.11,204.55 L544.18,205.09 L545.25,205.63 L546.33,206.15 L547.42,206.66 L548.51,207.16 L549.61,207.65 L550.72,208.13 L551.83,208.60 L552.94,209.05 L554.06,209.50 L555.19,209.93 L556.32,210.36 L557.45,210.77 L558.59,211.18 L559.73,211.57 L560.88,211.96 L562.03,212.33 L563.18,212.70 L564.33,213.06 L565.49,213.41 L566.65,213.74 L567.82,214.08 L568.98,214.40 L570.15,214.71 L571.32,215.02 L572.49,215.31 L573.66,215.60 L574.84,215.89 L576.01,216.16 L577.19,216.43 L578.36,216.69 L579.54,216.94 L580.71,217.18 L581.89,217.42 L583.06,217.65 L584.24,217.88 L585.41,218.10 L586.58,218.31 L587.75,218.52 L588.92,218.72 L590.02,221.11 L591.23,221.28 L592.44,221.45 L593.64,221.62 L594.85,221.80 L596.05,221.97 L597.26,222.14 L598.47,222.31 L599.67,222.48 L600.88,222.65 L602.08,222.82 L603.29,222.98 L604.50,223.15 L605.70,223.32 L606.91,223.49 L608.12,223.65 L609.32,223.82 L610.53,223.98 L611.74,224.14 L612.95,224.31 L614.15,224.47 L615.36,224.63 L616.57,224.79 L617.78,224.94 L618.99,225.10 L620.19,225.26 L621.40,225.41 L622.61,225.56 L623.82,225.71 L625.03,225.86 L626.24,226.01 L627.45,226.16 L628.66,226.31 L629.87,226.45 L631.08,226.59 L632.29,226.73 L633.50,226.87 L634.71,227.01 L635.92,227.15 L637.13,227.28 L638.34,227.41 L639.55,227.54 L640.76,227.67 L641.97,227.79 L643.19,227.92 L644.40,228.04 L645.61,228.16 L646.82,228.28 L648.04,228.39 L649.25,228.50 L650.46,228.61 L651.68,228.72 L652.89,228.83 L654.11,228.93 L655.32,229.03 L656.53,229.13 L657.75,229.22 L658.96,229.32 L660.18,229.40 L661.40,229.49 L662.61,229.58 L663.83,229.66 L665.05,229.74 L666.26,229.81 L667.48,229.88 L668.70,229.95 L669.92,230.02 L671.13,230.08 L672.35,230.14 L673.57,230.20 L674.79,230.25 L676.01,230.30" fill="none" stroke="#000" stroke-width="1.5"  stroke-linejoin="round"/>
<path d="M399.34,226.33 L399.42,225.11 L399.50,223.90 L399.58,222.68 L399.66,221.47 L399.74,220.25 L399.82,219.04 L399.90,217.83 L399.99,216.62 L400.07,215.41 L400.15,214.20 L400.24,212.98 L400.32,211.78 L400.41,210.57 L400.50,209.36 L400.58,208.15 L400.67,206.94 L400.76,205.73 L400.85,204.53 L400.94,203.32 L401.03,202.12 L401.12,200.91 L401.21,199.71 L401.30,198.50 L401.40,197.30 L401.49,196.09 L401.58,194.89 L401.68,193.69 L401.77,192.49 L401.87,191.28 L401.97,190.08 L402.06,188.88 L402.16,187.68 L402.26,186.48 L402.36,185.28 L402.46,184.08 L402.56,182.88 L402.66,181.68 L402.76,180.48 L402.86,179.28 L402.96,178.09 L403.06,176.89 L403.17,175.69 L403.27,174.49 L403.38,173.30 L403.48,172.10 L403.59,170.90 L403.70,169.71 L403.80,168.51 L403.91,167.31 L404.02,166.12 L404.13,164.92 L404.24,163.73 L404.35,162.53 L404.46,161.34 L404.57,160.14 L404.68,158.95 L404.80,157.75 L404.91,156.56 L405.02,155.36 L405.14,154.17 L405.25,152.98 L405.37,151.78 L405.49,150.59 L405.60,149.40 L405.72,148.20 L405.84,147.01 L405.96,145.82 L406.08,144.62 L406.20,143.43 L406.32,142.24 L406.44,141.04 L406.56,139.85 L406.69,138.66 L406.81,137.46 L406.93,136.27 L407.06,135.08 L407.18,133.89 L407.31,132.69 L407.43,131.50 L407.56,130.31 L407.69,129.11 L407.82,127.92 L407.95,126.73 L408.08,125.53 L408.21,124.34 L408.34,123.15 L408.47,121.95 L408.60,120.76 L408.73,119.57 L408.87,118.37 L409.00,117.18 L409.14,115.99 L409.27,114.79 L409.41,113.60 L409.54,112.40 L409.68,111.21 L409.82,110.01 L409.96,108.82 L410.09,107.62 L410.23,106.43 L410.37,105.23 L410.52,104.04 L410.66,102.84 L410.80,101.65 L410.94,100.45 L411.09,99.25 L411.23,98.06 L411.37,96.86 L411.52,95.66 L411.67,94.47 L411.81,93.27 L411.96,92.07 L412.11,90.87 L412.26,89.67 L412.40,88.47 L412.55,87.27 L412.70,86.07 L412.86,84.87 L413.01,83.67 L413.16,82.47 L413.31,81.27 L413.47,80.07 L413.62,78.87 L413.78,77.67 L413.93,76.47 L414.09,75.26 L414.24,74.06 L414.40,72.86 L414.56,71.65 L414.72,70.45 L414.88,69.24 L415.04,68.04 L415.20,66.83 L415.36,65.62 L415.52,64.42 L415.68,63.21 L415.85,62.00 L416.01,60.80 L416.64,59.81 L416.84,58.62 L417.05,57.43 L417.25,56.24 L417.46,55.05 L417.67,53.86 L417.89,52.67 L418.10,51.48 L418.33,50.29 L418.56,49.10 L418.81,47.92 L419.08,46.74 L419.37,45.56 L419.69,44.39 L420.04,43.23 L420.43,42.07 L420.86,40.91 L421.33,39.77 L421.84,38.64 L422.41,37.51 L423.04,36.40 L423.72,35.29 L424.47,34.20 L425.29,33.13 L426.16,32.11 L427.07,31.16 L428.01,30.33 L428.96,29.63 L429.92,29.12 L430.88,28.80 L431.81,28.73 L432.71,28.92 L433.58,29.37 L434.41,30.01 L435.22,30.80 L436.01,31.68 L436.78,32.60 L437.54,33.53 L438.29,34.46 L439.03,35.40 L439.75,36.35 L440.46,37.31 L441.16,38.28 L441.85,39.25 L442.53,40.23 L443.20,41.21 L443.85,42.21 L444.50,43.21 L445.14,44.21 L445.77,45.22 L446.39,46.24 L447.00,47.26 L447.61,48.29 L448.20,49.32 L448.79,50.35 L449.37,51.40 L449.94,52.44 L450.51,53.49 L451.07,54.55 L451.63,55.61 L452.18,56.67 L452.72,57.74 L453.26,58.81 L453.80,59.88 L454.33,60.96 L454.85,62.04 L455.37,63.12 L455.89,64.21 L456.41,65.29 L456.92,66.38 L457.43,67.47 L457.94,68.57 L458.45,69.66 L458.95,70.76 L459.46,71.86 L459.96,72.96 L460.47,74.06 L460.97,75.16 L461.47,76.26 L461.97,77.36 L462.48,78.46 L462.98,79.56 L463.49,80.66 L463.99,81.76 L464.50,82.87 L465.01,83.97 L465.52,85.07 L466.03,86.17 L466.54,87.27 L467.06,88.37 L467.57,89.47 L468.09,90.57 L468.61,91.67 L469.13,92.76 L469.65,93.86 L470.17,94.96 L470.70,96.05 L471.22,97.14 L471.75,98.24 L472.28,99.33 L472.82,100.42 L473.35,101.51 L473.89,102.60 L474.43,103.68 L474.97,104.77 L475.52,105.85 L476.06,106.93 L476.61,108.01 L477.17,109.09 L477.72,110.17 L478.28,111.24 L478.84,112.32 L479.41,113.39 L479.97,114.45 L480.55,115.52 L481.12,116.58 L481.70,117.65 L482.28,118.71 L482.86,119.76 L483.45,120.82 L484.04,121.87 L484.64,122.92 L485.23,123.96 L485.84,125.01 L486.44,126.05 L487.05,127.09 L487.67,128.12 L488.29,129.15 L488.91,130.18 L489.54,131.21 L490.17,132.23 L490.80,133.25 L491.44,134.26 L492.09,135.27 L492.74,136.28 L493.39,137.29 L494.05,138.29 L494.71,139.28 L495.38,140.28 L496.06,141.27 L496.73,142.25 L497.42,143.23 L498.11,144.21 L498.80,145.18 L499.50,146.15 L500.21,147.12 L500.92,148.08 L501.63,149.03 L502.35,149.98 L503.08,150.93 L503.81,151.87 L504.55,152.81 L505.30,153.74 L506.05,154.67 L506.81,155.59 L507.57,156.51 L508.34,157.42 L509.11,158.32 L509.90,159.23 L510.68,160.12 L511.48,161.01 L512.28,161.90 L513.09,162.78 L513.90,163.65 L514.72,164.52 L515.55,165.39 L516.39,166.24 L517.23,167.09 L518.08,167.94 L518.94,168.78 L519.80,169.61 L520.67,170.44 L521.55,171.26 L522.43,172.08 L523.32,172.88 L524.21,173.69 L525.12,174.48 L526.03,175.27 L526.94,176.05 L527.86,176.83 L528.79,177.60 L529.72,178.36 L530.66,179.12 L531.61,179.87 L532.56,180.61 L533.51,181.34 L534.48,182.07 L535.45,182.79 L536.42,183.51 L537.40,184.21 L538.38,184.91 L539.37,185.60 L540.37,186.29 L541.37,186.96 L542.37,187.63 L543.38,188.29 L544.40,188.95 L545.42,189.59 L546.45,190.23 L547.48,190.86 L548.51,191.48 L549.55,192.09 L550.60,192.70 L551.64,193.30 L552.70,193.89 L553.76,194.47 L554.82,195.04 L555.88,195.60 L556.95,196.16 L558.03,196.70 L559.11,197.24 L560.19,197.77 L561.28,198.29 L562.37,198.81 L563.46,199.31 L564.56,199.80 L565.66,200.29 L566.76,200.76 L567.87,201.23 L568.98,201.69 L570.10,202.14 L571.22,202.57 L572.34,203.00 L573.46,203.43 L574.59,203.84 L575.72,204.24 L576.85,204.64 L577.99,205.03 L579.13,205.41 L580.27,205.79 L581.41,206.15 L582.56,206.51 L583.71,206.86 L584.86,207.21 L586.01,207.55 L587.17,207.88 L588.32,208.21 L589.48,208.53 L590.65,208.84 L591.81,209.15 L592.97,209.46 L594.14,209.75 L595.31,210.05 L596.48,210.34 L597.65,210.62 L598.82,210.90 L599.99,211.18 L601.17,211.45 L602.34,211.71 L603.52,211.98 L604.70,212.24 L605.87,212.50 L607.05,212.75 L608.23,213.00 L609.41,213.25 L610.59,213.50 L611.77,213.74 L612.96,213.98 L614.14,214.22 L615.32,214.46 L616.50,214.69 L617.68,214.93 L618.87,215.16 L620.05,215.39 L621.23,215.62 L622.41,215.86 L623.59,216.09 L624.77,216.32 L625.95,216.55 L627.13,216.78 L628.31,217.01 L629.49,217.24 L631.20,220.31 L632.45,220.32 L633.70,220.34 L634.95,220.37 L636.20,220.41 L637.45,220.46 L638.70,220.52 L639.95,220.58 L641.20,220.65 L642.45,220.73 L643.70,220.82 L644.94,220.91 L646.19,221.01 L647.44,221.11 L648.68,221.22 L649.93,221.34 L651.17,221.46 L652.42,221.58 L653.66,221.72 L654.90,221.85 L656.15,221.99 L657.39,222.13 L658.63,222.28 L659.87,222.42 L661.12,222.58 L662.36,222.73 L663.60,222.89 L664.84,223.04 L666.08,223.20 L667.32,223.36 L668.56,223.53 L669.80,223.69 L671.04,223.85 L672.28,224.02 L673.52,224.18 L674.76,224.34 L676.00,224.50" fill="none" stroke="#f00" stroke-width="1.8" stroke-dasharray="0 3.0" stroke-linecap="round" stroke-linejoin="round"/>
<rect x="44.5" y="1.15" width="278.00" height="237.85" fill="none" stroke="#000" stroke-width="0.7"/>
<path d="M114.00,239.0V233.0M114.00,1.15V7.15" stroke="#000" stroke-width="0.7"/>
<path d="M183.50,239.0V233.0M183.50,1.15V7.15" stroke="#000" stroke-width="0.7"/>
<path d="M253.00,239.0V233.0M253.00,1.15V7.15" stroke="#000" stroke-width="0.7"/>
<path d="M44.5,154.05H50.5M322.5,154.05H316.5" stroke="#000" stroke-width="0.7"/>
<path d="M44.5,69.11H50.5M322.5,69.11H316.5" stroke="#000" stroke-width="0.7"/>
<rect x="398.0" y="1.15" width="278.30" height="237.85" fill="none" stroke="#000" stroke-width="0.7"/>
<path d="M467.57,239.0V233.0M467.57,1.15V7.15" stroke="#000" stroke-width="0.7"/>
<path d="M537.15,239.0V233.0M537.15,1.15V7.15" stroke="#000" stroke-width="0.7"/>
<path d="M606.72,239.0V233.0M606.72,1.15V7.15" stroke="#000" stroke-width="0.7"/>
<path d="M398.0,154.05H404.0M676.3,154.05H670.3" stroke="#000" stroke-width="0.7"/>
<path d="M398.0,69.11H404.0M676.3,69.11H670.3" stroke="#000" stroke-width="0.7"/>
<text x="44.50" y="252.1" text-anchor="middle" font-family="Liberation Serif" font-size="13.3" textLength="7.12" lengthAdjust="spacingAndGlyphs">0</text>
<text x="114.00" y="252.1" text-anchor="middle" font-family="Liberation Serif" font-size="13.3" textLength="17.79" lengthAdjust="spacingAndGlyphs">0.2</text>
<text x="183.50" y="252.1" text-anchor="middle" font-family="Liberation Serif" font-size="13.3" textLength="17.79" lengthAdjust="spacingAndGlyphs">0.4</text>
<text x="253.00" y="252.1" text-anchor="middle" font-family="Liberation Serif" font-size="13.3" textLength="17.79" lengthAdjust="spacingAndGlyphs">0.6</text>
<text x="322.50" y="252.1" text-anchor="middle" font-family="Liberation Serif" font-size="13.3" textLength="17.79" lengthAdjust="spacingAndGlyphs">0.8</text>
<text x="39.70" y="243.60" text-anchor="end" font-family="Liberation Serif" font-size="13.3" textLength="7.12" lengthAdjust="spacingAndGlyphs">0</text>
<text x="39.70" y="158.65" text-anchor="end" font-family="Liberation Serif" font-size="13.3" textLength="17.79" lengthAdjust="spacingAndGlyphs">0.5</text>
<text x="39.70" y="73.71" text-anchor="end" font-family="Liberation Serif" font-size="13.3" textLength="7.12" lengthAdjust="spacingAndGlyphs">1</text>
<text x="398.00" y="252.1" text-anchor="middle" font-family="Liberation Serif" font-size="13.3" textLength="7.12" lengthAdjust="spacingAndGlyphs">0</text>
<text x="467.57" y="252.1" text-anchor="middle" font-family="Liberation Serif" font-size="13.3" textLength="17.79" lengthAdjust="spacingAndGlyphs">0.2</text>
<text x="537.15" y="252.1" text-anchor="middle" font-family="Liberation Serif" font-size="13.3" textLength="17.79" lengthAdjust="spacingAndGlyphs">0.4</text>
<text x="606.72" y="252.1" text-anchor="middle" font-family="Liberation Serif" font-size="13.3" textLength="17.79" lengthAdjust="spacingAndGlyphs">0.6</text>
<text x="676.30" y="252.1" text-anchor="middle" font-family="Liberation Serif" font-size="13.3" textLength="17.79" lengthAdjust="spacingAndGlyphs">0.8</text>
<text x="393.20" y="243.60" text-anchor="end" font-family="Liberation Serif" font-size="13.3" textLength="7.12" lengthAdjust="spacingAndGlyphs">0</text>
<text x="393.20" y="158.65" text-anchor="end" font-family="Liberation Serif" font-size="13.3" textLength="17.79" lengthAdjust="spacingAndGlyphs">0.5</text>
<text x="393.20" y="73.71" text-anchor="end" font-family="Liberation Serif" font-size="13.3" textLength="7.12" lengthAdjust="spacingAndGlyphs">1</text>
<rect x="220.5" y="6.2" width="96.00" height="56.2" fill="#fff" stroke="#000" stroke-width="0.7"/>
<line x1="225.50" y1="17.6" x2="251.50" y2="17.6" stroke="#00f" stroke-width="1.5" stroke-dasharray="4.6 3.0"/>
<text x="254.80" y="21.30" font-family="Liberation Serif" font-style="italic" font-size="13.3" textLength="7.3" lengthAdjust="spacingAndGlyphs">d</text>
<text x="262.50" y="22.90" font-family="Liberation Serif" font-style="italic" font-size="9.6" textLength="10.2" lengthAdjust="spacingAndGlyphs">m</text>
<path d="M278.00,16.10h9.2M278.00,19.30h9.2" stroke="#000" stroke-width="0.75"/>
<text x="291.70" y="21.30" font-family="Liberation Serif" font-size="13.3" textLength="17.79" lengthAdjust="spacingAndGlyphs">0.8</text>
<line x1="225.50" y1="34.4" x2="251.50" y2="34.4" stroke="#000" stroke-width="1.5" />
<text x="254.80" y="38.10" font-family="Liberation Serif" font-style="italic" font-size="13.3" textLength="7.3" lengthAdjust="spacingAndGlyphs">d</text>
<text x="262.50" y="39.70" font-family="Liberation Serif" font-style="italic" font-size="9.6" textLength="10.2" lengthAdjust="spacingAndGlyphs">m</text>
<path d="M278.00,32.90h9.2M278.00,36.10h9.2" stroke="#000" stroke-width="0.75"/>
<text x="291.70" y="38.10" font-family="Liberation Serif" font-size="13.3" textLength="17.79" lengthAdjust="spacingAndGlyphs">0.6</text>
<line x1="226.20" y1="51.3" x2="251.50" y2="51.3" stroke="#f00" stroke-width="1.8" stroke-dasharray="0 3.0" stroke-linecap="round"/>
<text x="254.80" y="55.00" font-family="Liberation Serif" font-style="italic" font-size="13.3" textLength="7.3" lengthAdjust="spacingAndGlyphs">d</text>
<text x="262.50" y="56.60" font-family="Liberation Serif" font-style="italic" font-size="9.6" textLength="10.2" lengthAdjust="spacingAndGlyphs">m</text>
<path d="M278.00,49.80h9.2M278.00,53.00h9.2" stroke="#000" stroke-width="0.75"/>
<text x="291.70" y="55.00" font-family="Liberation Serif" font-size="13.3" textLength="17.79" lengthAdjust="spacingAndGlyphs">0.3</text>
<rect x="565.5" y="6.2" width="105.10" height="56.2" fill="#fff" stroke="#000" stroke-width="0.7"/>
<line x1="570.50" y1="17.6" x2="596.50" y2="17.6" stroke="#00f" stroke-width="1.5" stroke-dasharray="4.6 3.0"/>
<text x="600.80" y="21.30" font-family="Liberation Serif" font-style="italic" font-size="13.3" textLength="7.3" lengthAdjust="spacingAndGlyphs">d</text>
<text x="608.10" y="22.90" font-family="Liberation Serif" font-style="italic" font-size="9.6" textLength="11.2" lengthAdjust="spacingAndGlyphs">M</text>
<path d="M624.80,16.10h9.2M624.80,19.30h9.2" stroke="#000" stroke-width="0.75"/>
<text x="638.70" y="21.30" font-family="Liberation Serif" font-size="13.3" textLength="24.90" lengthAdjust="spacingAndGlyphs">0.99</text>
<line x1="570.50" y1="34.4" x2="596.50" y2="34.4" stroke="#000" stroke-width="1.5" />
<text x="600.80" y="38.10" font-family="Liberation Serif" font-style="italic" font-size="13.3" textLength="7.3" lengthAdjust="spacingAndGlyphs">d</text>
<text x="608.10" y="39.70" font-family="Liberation Serif" font-style="italic" font-size="9.6" textLength="11.2" lengthAdjust="spacingAndGlyphs">M</text>
<path d="M624.80,32.90h9.2M624.80,36.10h9.2" stroke="#000" stroke-width="0.75"/>
<text x="638.70" y="38.10" font-family="Liberation Serif" font-size="13.3" textLength="17.79" lengthAdjust="spacingAndGlyphs">0.9</text>
<line x1="571.20" y1="51.3" x2="596.50" y2="51.3" stroke="#f00" stroke-width="1.8" stroke-dasharray="0 3.0" stroke-linecap="round"/>
<text x="600.80" y="55.00" font-family="Liberation Serif" font-style="italic" font-size="13.3" textLength="7.3" lengthAdjust="spacingAndGlyphs">d</text>
<text x="608.10" y="56.60" font-family="Liberation Serif" font-style="italic" font-size="9.6" textLength="11.2" lengthAdjust="spacingAndGlyphs">M</text>
<path d="M624.80,49.80h9.2M624.80,53.00h9.2" stroke="#000" stroke-width="0.75"/>
<text x="638.70" y="55.00" font-family="Liberation Serif" font-size="13.3" textLength="17.79" lengthAdjust="spacingAndGlyphs">0.8</text>
<text x="183.4" y="271.3" text-anchor="middle" font-family="Liberation Serif" font-size="13.3" textLength="114" lengthAdjust="spacingAndGlyphs">Displacement [mm]</text>
<text x="537.3" y="271.3" text-anchor="middle" font-family="Liberation Serif" font-size="13.3" textLength="114" lengthAdjust="spacingAndGlyphs">Displacement [mm]</text>
<text transform="translate(10.4,121.6) rotate(-90)" text-anchor="middle" font-family="Liberation Serif" font-size="14" textLength="61.5" lengthAdjust="spacingAndGlyphs">Load [kN]</text>
<text transform="translate(363.4,121.6) rotate(-90)" text-anchor="middle" font-family="Liberation Serif" font-size="14" textLength="61.5" lengthAdjust="spacingAndGlyphs">Load [kN]</text>
<text x="176.1" y="293.3" text-anchor="middle" font-family="Liberation Serif" font-weight="bold" font-size="16.5">(a)</text>
<text x="535.5" y="293.3" text-anchor="middle" font-family="Liberation Serif" font-weight="bold" font-size="16.5">(b)</text>
</svg>
</body></html>
